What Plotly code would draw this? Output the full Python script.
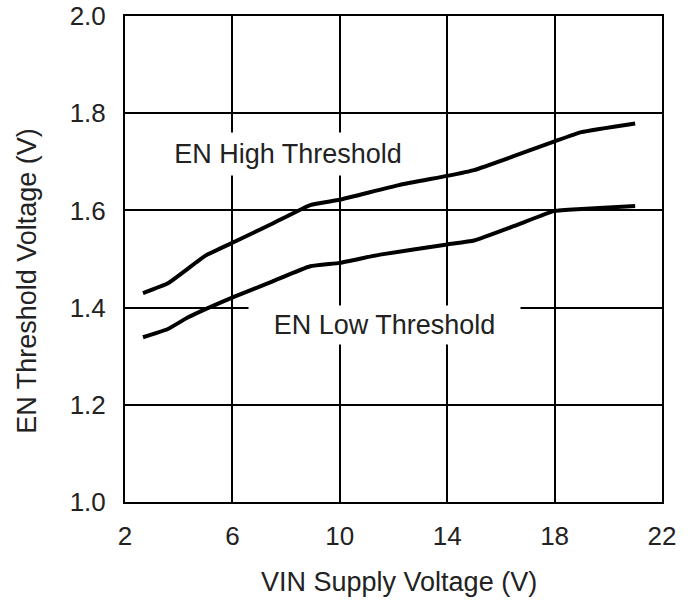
import plotly.graph_objects as go

vin_high = [2.67, 3.6, 4.2, 5.0, 6.1, 7.5, 8.9, 10.0, 12.2, 14.0, 15.0, 16.5, 18.0, 19.0, 21.0]
en_high = [1.430, 1.450, 1.474, 1.507, 1.536, 1.573, 1.611, 1.622, 1.652, 1.671, 1.683, 1.712, 1.742, 1.761, 1.779]

vin_low = [2.67, 3.6, 4.35, 5.0, 6.1, 7.5, 8.9, 10.0, 11.5, 14.0, 15.0, 16.5, 18.0, 19.0, 21.0]
en_low = [1.339, 1.356, 1.380, 1.397, 1.423, 1.454, 1.485, 1.492, 1.509, 1.530, 1.538, 1.568, 1.599, 1.603, 1.609]

x_ticks = [2, 6, 10, 14, 18, 22]
y_ticks = [1.0, 1.2, 1.4, 1.6, 1.8, 2.0]

font = "Liberation Sans, Arial, sans-serif"
txt = "#222"
fig = go.Figure()
for xs, ys in ((vin_high, en_high), (vin_low, en_low)):
    fig.add_trace(go.Scatter(x=xs, y=ys, mode="lines",
                             line=dict(color="black", width=4, shape="spline", smoothing=0.4),
                             showlegend=False))

fig.add_annotation(x=8.07, y=1.716, text="EN High Threshold", showarrow=False,
                   font=dict(family=font, size=27, color=txt),
                   bgcolor="white", width=268, height=40, xref="x", yref="y")
fig.add_annotation(x=11.65, y=1.364, text="EN Low Threshold", showarrow=False,
                   font=dict(family=font, size=27, color=txt),
                   bgcolor="white", width=269, height=36, xref="x", yref="y")

# axis titles
fig.add_annotation(x=0.510, y=-0.1656, xref="paper", yref="paper", showarrow=False,
                   text="VIN Supply Voltage (V)", xanchor="center", yanchor="middle",
                   font=dict(family=font, size=27, color=txt))
fig.add_annotation(x=-0.1825, y=0.455, xref="paper", yref="paper", showarrow=False,
                   text="EN Threshold Voltage (V)", textangle=-90,
                   xanchor="center", yanchor="middle",
                   font=dict(family=font, size=27, color=txt))

fig.update_layout(
    width=696, height=602,
    margin=dict(l=125, r=34, t=16, b=100, autoexpand=False),
    paper_bgcolor="white", plot_bgcolor="white",
    font=dict(family=font, size=26, color=txt),
)
fig.update_xaxes(range=[2, 22], tickvals=x_ticks, ticktext=[str(v) for v in x_ticks],
                 showgrid=True, gridcolor="black", gridwidth=1.5,
                 showline=True, linecolor="black", linewidth=2, mirror=True,
                 zeroline=False, ticks="", ticklabelstandoff=10, automargin=False,
                 ticklabeloverflow="allow")
fig.update_yaxes(range=[1.0, 2.0], tickvals=y_ticks, ticktext=[f"{v:.1f}" for v in y_ticks],
                 showgrid=True, gridcolor="black", gridwidth=1.5,
                 showline=True, linecolor="black", linewidth=2, mirror=True,
                 zeroline=False, ticks="", ticklabelstandoff=12, automargin=False,
                 ticklabeloverflow="allow")

fig.write_html("out.html")
